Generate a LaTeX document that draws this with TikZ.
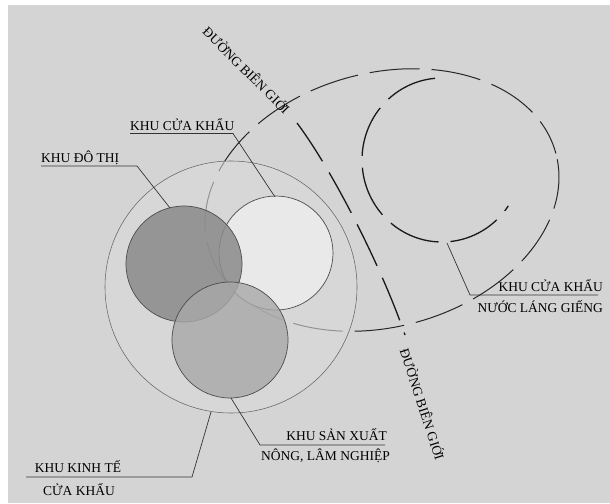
\documentclass[tikz,border=0pt]{standalone}
\usepackage{fontspec}
\setmainfont{Liberation Serif}
\begin{document}
\begin{tikzpicture}[x=1pt,y=-1pt,
  lbl/.style={font=\fontsize{13.5}{15}\selectfont, inner sep=0pt, text=black},
  leader/.style={line width=0.7pt, draw=black!80},
  zone/.style={line width=0.7pt, draw=black!70},
  bigdash/.style={line width=1.0pt, draw=black!85, dash pattern=on 50pt off 12pt, dash phase=56pt},
  border/.style={line width=1.3pt, draw=black!90, dash pattern=on 46pt off 13pt},
  smalldash/.style={line width=1.3pt, draw=black!90, dash pattern=on 52pt off 12pt}]
\definecolor{bg}{RGB}{212,212,212}
\definecolor{outerfill}{RGB}{218,218,218}
\definecolor{gatefill}{RGB}{233,233,233}
\definecolor{urbanfill}{RGB}{138,138,138}
\definecolor{prodfill}{RGB}{168,168,168}
\useasboundingbox (0,0) rectangle (610,503);
\fill[white] (0,0) rectangle (610,503);
\fill[bg] (8,5) rectangle (610,503);

% big dashed ellipse (neighbouring area)
\draw[bigdash, rotate around={15:(382,200)}] (382,200) ellipse [x radius=180, y radius=127];

% outer economic zone circle
\fill[outerfill, fill opacity=0.6] (231,287) circle [radius=126];
\draw[line width=0.55pt, draw=black!60] (231,287) circle [radius=126];

% inner zones
\filldraw[zone, fill=gatefill] (276,253) circle [radius=57];
\filldraw[zone, fill=urbanfill, fill opacity=0.85] (184,264) circle [radius=58];
\filldraw[zone, fill=prodfill, fill opacity=0.8] (230,340) circle [radius=58];

% neighbouring gate zone (dashed arc)
\draw[smalldash] (442,160) ++(95:80 and -82) arc [start angle=95, end angle=326, x radius=80, y radius=-82];

% border line
\coordinate (b1) at (297,123);
\coordinate (b2) at (405,335);
\draw[border] (b1) .. controls (333,171) and (382,268) .. (b2);

\node[lbl, rotate=-45] (bt) at (247,70) {ĐƯỜNG BIÊN GIỚI};
\node[lbl, rotate=-72] (bb) at (423,404) {ĐƯỜNG BIÊN GIỚI};

% labels
\node[lbl, anchor=base west] (gate) at (130,130) {KHU CỬA KHẨU};
\coordinate (gateA) at (130,133.5);
\coordinate (gateB) at (233,133.5);
\coordinate (gateC) at (275,197);
\draw[leader] (gateA) -- (gateB) -- (gateC);

\node[lbl, anchor=base west] (urban) at (41,162) {KHU ĐÔ THỊ};
\coordinate (urbA) at (41,166);
\coordinate (urbB) at (137,166);
\coordinate (urbC) at (170,208);
\draw[leader] (urbA) -- (urbB) -- (urbC);

\node[lbl, anchor=base east] (ngate1) at (603,291) {KHU CỬA KHẨU};
\node[lbl, anchor=base east] (ngate2) at (603,312) {NƯỚC LÁNG GIẾNG};
\coordinate (ngA) at (598,295);
\coordinate (ngB) at (470,295);
\coordinate (ngC) at (447,243);
\draw[leader] (ngA) -- (ngB) -- (ngC);

\node[lbl, anchor=base east] (prod1) at (387,440) {KHU SẢN XUẤT};
\node[lbl, anchor=base east] (prod2) at (390,460) {NÔNG, LÂM NGHIỆP};
\coordinate (prA) at (385,445);
\coordinate (prB) at (260,445);
\coordinate (prC) at (231,398);
\draw[leader] (prA) -- (prB) -- (prC);

\node[lbl, anchor=base] (kkt1) at (78,472) {KHU KINH TẾ};
\node[lbl, anchor=base] (kkt2) at (79,495) {CỬA KHẨU};
\coordinate (kkA) at (26,477);
\coordinate (kkB) at (192,477);
\coordinate (kkC) at (211,412);
\draw[leader] (kkA) -- (kkB) -- (kkC);
\end{tikzpicture}
\end{document}
